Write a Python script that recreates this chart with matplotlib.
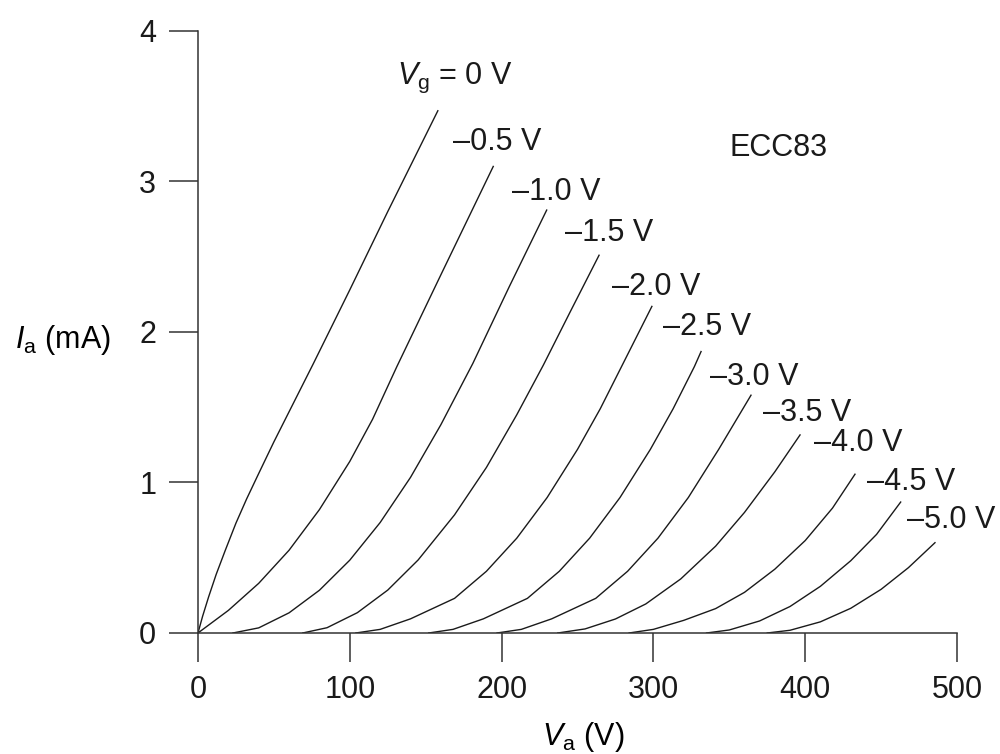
import matplotlib.pyplot as plt

plt.rcParams['font.family'] = ['Liberation Sans', 'DejaVu Sans']
plt.rcParams['mathtext.fontset'] = 'custom'
plt.rcParams['mathtext.rm'] = 'Liberation Sans'
plt.rcParams['mathtext.it'] = 'Liberation Sans:italic'

# ECC83 anode characteristics (Va in V, Ia in mA)
va_0 = [0, 3, 7, 12, 18, 25, 32, 40, 50, 63, 76, 100, 125, 158]
ia_0 = [0, 0.11, 0.24, 0.39, 0.55, 0.73, 0.89, 1.06, 1.27, 1.53, 1.79, 2.28, 2.80, 3.47]

va_05 = [0, 20, 40, 60, 80, 100, 115, 131, 160, 194.5]
ia_05 = [0, 0.15, 0.33, 0.55, 0.82, 1.14, 1.42, 1.77, 2.38, 3.10]

va_10 = [23, 40, 60, 80, 100, 120, 140, 160, 181, 205, 229.7]
ia_10 = [0, 0.034, 0.134, 0.284, 0.484, 0.734, 1.034, 1.384, 1.79, 2.30, 2.81]

va_15 = [69, 85, 105, 125, 145, 169, 190, 210, 227.5, 245, 264.2]
ia_15 = [0, 0.035, 0.135, 0.285, 0.485, 0.785, 1.10, 1.45, 1.78, 2.13, 2.51]

va_20 = [104, 120, 140, 169, 190, 210, 230, 250, 265, 279, 299]
ia_20 = [0, 0.024, 0.094, 0.23, 0.41, 0.63, 0.90, 1.22, 1.49, 1.77, 2.17]

va_25 = [152, 168, 188, 217, 238, 258, 278, 298, 313, 327, 331.4]
ia_25 = [0, 0.024, 0.094, 0.23, 0.41, 0.63, 0.90, 1.22, 1.49, 1.77, 1.87]

va_30 = [197, 213, 233, 262, 283, 303, 323, 343, 364.3]
ia_30 = [0, 0.024, 0.094, 0.23, 0.41, 0.63, 0.90, 1.22, 1.58]

va_35 = [237, 255, 275, 295, 318, 341, 360, 380, 396.6]
ia_35 = [0, 0.027, 0.093, 0.193, 0.359, 0.577, 0.801, 1.071, 1.316]

va_40 = [284, 300, 320, 341, 360, 380, 400, 418, 432.8]
ia_40 = [0, 0.024, 0.084, 0.162, 0.27, 0.424, 0.614, 0.83, 1.055]

va_45 = [335, 350, 370, 390, 410, 430, 447, 462.9]
ia_45 = [0, 0.02, 0.08, 0.176, 0.31, 0.48, 0.655, 0.87]

va_50 = [375, 390, 410, 430, 450, 468, 485.5]
ia_50 = [0, 0.018, 0.074, 0.164, 0.29, 0.434, 0.60]

curves = [(va_0, ia_0), (va_05, ia_05), (va_10, ia_10), (va_15, ia_15),
          (va_20, ia_20), (va_25, ia_25), (va_30, ia_30), (va_35, ia_35),
          (va_40, ia_40), (va_45, ia_45), (va_50, ia_50)]

grid_labels = [r'$V_{\mathrm{g}}$ = 0 V', '–0.5 V', '–1.0 V', '–1.5 V', '–2.0 V',
               '–2.5 V', '–3.0 V', '–3.5 V', '–4.0 V', '–4.5 V', '–5.0 V']

x_ticks = [0, 100, 200, 300, 400, 500]
y_ticks = [0, 1, 2, 3, 4]

# where each grid label sits (left edge, vertical centre)
label_pos = [(131, 3.69), (168, 3.26), (207, 2.93), (242, 2.66), (273, 2.30),
             (306, 2.03), (337, 1.70), (372, 1.46), (406, 1.26), (441, 1.00),
             (467, 0.75)]

fig = plt.figure(figsize=(10, 7.54), dpi=100)
ax = fig.add_axes([0.198, 0.1605, 0.759, 0.7984])

for (va, ia) in curves:
    ax.plot(va, ia, color='#1a1a1a', lw=1.0, solid_joinstyle='round')

for txt, (x, y) in zip(grid_labels, label_pos):
    ax.text(x, y, txt, fontsize=22, ha='left', va='center', color='#1a1a1a')

ax.text(350, 3.22, 'ECC83', fontsize=22, ha='left', va='center', color='#1a1a1a')

ax.set_xlim(0, 500)
ax.set_ylim(0, 4)
ax.set_xticks(x_ticks)
ax.set_yticks(y_ticks)
for side in ['top', 'right']:
    ax.spines[side].set_visible(False)
for side in ['left', 'bottom']:
    ax.spines[side].set_linewidth(1.1)
    ax.spines[side].set_color('#333333')
ax.tick_params(direction='out', length=21, width=1.1, pad=9,
               labelsize=22, color='#333333', labelcolor='#1a1a1a')

fig.text(0.063, 0.549, r'$I_{\mathrm{a}}$ (mA)', fontsize=22, ha='center', va='center')
fig.text(0.583, 0.022, r'$V_{\mathrm{a}}$ (V)', fontsize=22, ha='center', va='center')

fig.savefig('out.png', dpi=100)
